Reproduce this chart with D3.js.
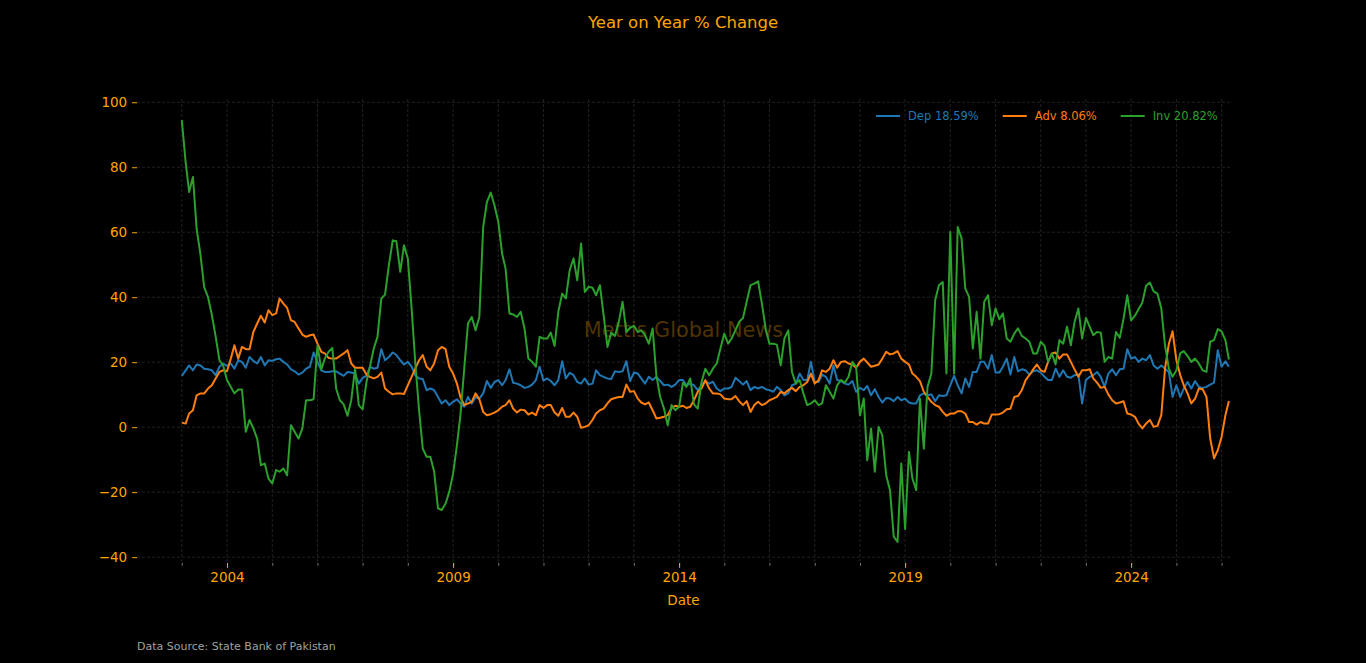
<!DOCTYPE html>
<html>
<head>
<meta charset="utf-8">
<script src="https://cdn.jsdelivr.net/npm/d3@7"></script>
<style>
  html, body { margin: 0; background: #000; }
  svg { display: block; font-family: "DejaVu Sans", sans-serif; }
</style>
</head>
<body>
<script>
// monthly data, first month Jan 2003
const startYear = 2003;
const dep = [15.8,17.5,19,17.5,19.3,19,18,17.8,17.5,16,18.6,19.6,18.9,19.6,18,20.6,20.1,18.3,21.6,20.4,19.6,21.6,19,20.6,20.4,20.9,21.1,20.1,19.3,17.8,17.2,16.2,16.8,18,18.6,
  23,20.1,17.5,17,17,17.2,17.2,16.5,15.8,17,16.8,16.5,13.4,15.2,15.8,18.6,18,18.3,24,20.6,21.6,23,22.2,20.6,19.3,20.1,18.6,16,15,14.8,11.4,11.9,11.4,9.3,7.3,8.3,
  6.8,7.8,8.6,7.3,6.3,9.3,7.3,9.3,8.8,10.4,14.2,12.1,13.9,14.5,12.9,14.5,17.8,13.7,13.4,12.9,12.1,12.4,13.1,14.5,18.6,14.3,15,14.2,12.9,14.5,20.3,15,16.7,16,13.9,13.4,
  15,13.1,13.4,17.5,16,15.5,15,14.8,17.2,17,17.2,20.3,14.2,16.8,16.5,15,13.4,15.5,14.5,15.5,14.2,12.9,13.1,12.4,13.1,14.5,14.5,12.9,13.4,12.9,11.4,12.9,14.2,13.4,14,
  11.9,11.1,11.9,11.9,12.4,15.2,14.2,13.1,14.2,11.4,12.4,11.9,12.4,11.7,11.4,10.9,12.4,11.4,9.8,10.4,12.9,13.4,16.5,14.5,14.5,20.1,13.9,13.9,16.2,15.5,13.4,19,14.5,14.2,13.4,13.1,
  14.2,10.9,12.1,11.4,12.7,9.8,11.7,9.3,7.6,9,8.8,8,9.3,8.3,8.8,7.6,7.3,7.3,9.8,10.4,9.8,10.1,8,9.8,9.6,9.8,12.9,15.8,12.9,10.4,15,12.4,17,17,20.1,20.1,
  18,22.2,16.8,16.8,18.6,21.1,16.2,21.6,17.2,17.8,17.5,16.2,17.2,17.5,16.8,15.5,14.5,14.5,18,15.5,17.5,15.5,15.2,16,16.2,7.3,14.5,15.5,16,17,15.5,12.4,16.5,17.8,16,17.8,
  18,24,21.1,21.6,20.1,21.1,20.6,22.2,19,18,19,18,17,9.3,12.9,9.3,11.9,13.9,11.9,14.2,12.4,12.1,12.4,13.1,13.7,23.7,18.6,20.3,18.59];
const adv = [1.4,1.1,4.2,5.2,9.8,10.4,10.4,11.9,12.9,15,17,17.5,17.2,21.1,25.2,21.1,24.7,24,24,29.3,31.9,34.3,32.2,36,34.5,35,39.6,38,36.7,32.9,32.4,30.4,28.5,27.8,28.3,
  28.5,25.7,23.2,22.7,21.3,21.1,21.1,21.9,22.7,23.7,19.6,18.3,18.3,18.3,16.2,15.5,15,15.5,16.8,11.9,10.9,10.1,10.4,10.4,10.2,12.9,15.5,18,20.6,22.2,18.6,17.5,19.6,23.7,24.7,24,
  18.6,16.5,13.4,9.3,6.8,7.3,7.8,10.4,8.6,4.7,3.7,4,4.5,5.2,6.3,6.8,8.3,5.7,4.5,5.4,5.2,3.9,4.5,3.7,6.8,5.9,6.8,6.8,4.5,3.5,5.9,3.2,3.2,4.5,3.2,-0.2,
  0.1,0.6,2.2,4.2,5.2,5.7,7.3,8.6,9,9.3,9.3,13.1,10.9,11.1,8.8,7.6,7,7.6,5.2,2.7,2.9,3.2,3.7,5.9,6.6,6.3,6.6,5.9,6.3,8.3,10.9,11.9,14.5,11.9,10.4,
  10.4,10.1,8.8,8.6,8.6,9.6,8,6.8,8,4.7,6.8,7.8,6.8,7.3,8.3,8.8,9.3,10.9,10.4,11.4,12.1,11.1,12.4,12.9,13.9,16.5,13.4,14.5,17.5,17,18,20.6,18.3,20.1,20.3,19.6,
  19.3,18.3,20.1,21.1,19.9,18.6,18.9,19.3,21.1,23.2,22.4,22.7,23.4,21.1,20.1,19.3,16.5,15.5,14.2,10.9,9.3,7.8,6.8,6.3,4.7,3.5,4.2,4.2,4.9,4.9,4.2,1.6,1.6,0.8,1.6,1.1,
  1.1,3.9,3.9,4,4.5,5.5,5.7,9.3,9.6,11.4,14.5,16,17.8,19.3,17.5,17,20.1,22.7,23,21.1,22.4,22.4,20.1,17.8,15.5,17.5,17.5,17.8,15,13.7,12.1,12.4,10.1,8.3,7.3,7.6,
  8,4.2,3.9,3.2,1.1,-0.4,1.1,2.2,0.1,0.4,3.7,18,25.7,29.5,20.6,16,12.9,10.4,7.3,8.8,11.9,11.7,9.3,-3.5,-9.6,-7.1,-3,3.7,8.06];
const inv = [94.5,81.6,72.4,77,61,53,43,40,34.5,28,20.6,19,14.5,12.4,10.4,11.6,11.6,-1.4,2.2,-0.4,-3.5,-11.7,-11.2,-15.8,-17.3,-13.2,-13.7,-12.7,-14.8,0.6,-1.4,-3.5,-0.4,8.3,8.3,
  8.6,25.2,17.8,21.1,23.2,24.4,11.9,8.3,7,3.5,8.3,18,6.8,5.5,13.9,18.6,24.2,27.8,39.6,40.8,49.8,57.5,57.2,47.8,56,51.9,36.5,20.1,5.2,-6.6,-9.1,-9.1,-13.7,-25,-25.5,-23.5,
  -19.9,-14.3,-5.5,3.7,18,31.9,33.9,29.8,33.9,61.6,69.3,72.2,68.3,63.2,53.4,48.8,35,34.7,33.9,35.5,30.4,21.1,20.1,18.6,27.8,27.3,27.3,29.1,25,35.5,41.1,39.6,48.3,51.9,45.2,56.5,
  41.6,43.2,42.9,40.6,43.7,34.5,24.7,29.1,28.1,32.4,38.6,29.3,30.6,31.2,29.3,29.8,28.3,25.7,30.4,16,9.3,5.7,0.6,6.8,5.2,6.3,13.7,12.4,15,7,5.7,13.9,18,16,18,
  19.6,24.2,28.8,25.7,27.3,29.8,32.4,33.6,38.6,43.7,44.2,44.9,38,30.4,25.7,25.7,25.4,19,27.3,29.8,17,13.4,14.5,10.4,6.8,7.3,8.3,6.8,7.3,12.9,10.9,8.8,12.9,14.5,13.7,15.5,
  20.1,18.6,3.7,8.8,-10.2,-0.4,-13.7,0.1,-2.5,-14.8,-19.4,-33.7,-35.3,-11.2,-31.3,-7.6,-15.8,-19.4,8.8,-6.6,12.4,16.5,39.1,43.7,44.7,16.5,60.1,16.5,61.6,58.1,42.7,40.1,24.2,35.5,21.1,38.6,
  40.6,31.4,36.5,33.2,35,27.3,26.3,28.8,30.4,28.1,27.3,26.3,22.7,22.7,26.3,25,20.1,22.7,19.3,26.8,25.7,30.9,25.2,32.4,36.5,27.3,33.6,30.9,28.3,29.3,29.1,20.1,21.6,21.1,29.3,27.5,
  33.4,40.6,32.9,34.3,36.3,38.4,43.5,44.5,41.8,41.1,36.5,25.2,18,15.5,17.5,22.7,23.4,21.9,20.1,21.1,19.6,17.5,17,26.3,26.8,30.2,29.5,26.8,20.82];

const seriesNames = ["Dep", "Adv", "Inv"];
const seriesColors = ["#1f77b4", "#ff7f0e", "#2ca02c"];
const yTicks = [-40, -20, 0, 20, 40, 60, 80, 100];
const xTickYears = [2004, 2009, 2014, 2019, 2024];

const w = 1366, h = 663;
const padL = 137, padR = 1230, padT = 99, padB = 563;
const orange = "#ffa500";
const gridColor = "#2a2a2a";

const dates = dep.map((d, i) => new Date(startYear, i, 1));
const series = [dep, adv, inv];

const xScale = d3.scaleTime()
  .domain([new Date(2002, 0, 4), new Date(2026, 2, 10)])
  .range([padL, padR]);
const yScale = d3.scaleLinear()
  .domain([-41.8, 101])
  .range([padB, padT]);

const svg = d3.select("body").append("svg")
  .attr("width", w).attr("height", h);

svg.append("rect").attr("width", w).attr("height", h).attr("fill", "#000");

// grid
const yearTicks = d3.range(2003, 2027).map(yr => new Date(yr, 0, 1));
svg.append("g").selectAll("line").data(yearTicks).enter().append("line")
  .attr("x1", d => xScale(d)).attr("x2", d => xScale(d))
  .attr("y1", padT).attr("y2", padB)
  .attr("stroke", gridColor).attr("stroke-width", 0.8).attr("stroke-dasharray", "3,2");
svg.append("g").selectAll("line").data(yTicks).enter().append("line")
  .attr("x1", padL).attr("x2", padR)
  .attr("y1", d => yScale(d)).attr("y2", d => yScale(d))
  .attr("stroke", gridColor).attr("stroke-width", 0.8).attr("stroke-dasharray", "3,2");

// watermark
svg.append("text")
  .attr("x", (padL + padR) / 2).attr("y", (padT + padB) / 2)
  .attr("text-anchor", "middle").attr("dominant-baseline", "middle")
  .attr("font-size", "20.8px").attr("fill", orange).attr("fill-opacity", 0.32)
  .text("Mettis Global News");

// lines
const line = d3.line().x((d, i) => xScale(dates[i])).y(d => yScale(d));
series.forEach((s, k) => {
  svg.append("path").datum(s)
    .attr("d", line)
    .attr("fill", "none")
    .attr("stroke", seriesColors[k])
    .attr("stroke-width", 2)
    .attr("stroke-linejoin", "round");
});

// axes
const xMinor = d3.axisBottom(xScale).tickValues(yearTicks).tickSize(2.8).tickFormat("");
const gxm = svg.append("g").attr("transform", "translate(0," + padB + ")").call(xMinor);
gxm.select(".domain").remove();
gxm.selectAll("line").attr("stroke", "#777");

const xAxis = d3.axisBottom(xScale)
  .tickValues(xTickYears.map(yr => new Date(yr, 0, 1)))
  .tickSize(4.9).tickPadding(4.5)
  .tickFormat(d3.timeFormat("%Y"));
const gx = svg.append("g").attr("transform", "translate(0," + padB + ")").call(xAxis);
gx.select(".domain").remove();
gx.selectAll("line").attr("stroke", orange);
gx.selectAll("text").attr("fill", orange).attr("font-size", "13.5px").attr("font-family", "DejaVu Sans");

const yAxis = d3.axisLeft(yScale).tickValues(yTicks).tickSize(4.9).tickPadding(4.9)
  .tickFormat(d => d < 0 ? "\u2212" + Math.abs(d) : d);
const gy = svg.append("g").attr("transform", "translate(" + padL + ",0)").call(yAxis);
gy.select(".domain").remove();
gy.selectAll("line").attr("stroke", orange);
gy.selectAll("text").attr("fill", orange).attr("font-size", "13.5px").attr("font-family", "DejaVu Sans");

// labels
svg.append("text").attr("x", w / 2).attr("y", 28)
  .attr("text-anchor", "middle").attr("font-size", "16.5px").attr("fill", orange)
  .text("Year on Year % Change");
svg.append("text").attr("x", (padL + padR) / 2).attr("y", 605)
  .attr("text-anchor", "middle").attr("font-size", "13.5px").attr("fill", orange)
  .text("Date");
svg.append("text").attr("x", padL).attr("y", 650)
  .attr("font-size", "11px").attr("fill", "#a0a0a0")
  .text("Data Source: State Bank of Pakistan");

// legend
const legend = svg.append("g");
let lx = 876;
series.forEach((s, k) => {
  legend.append("line")
    .attr("x1", lx).attr("x2", lx + 24).attr("y1", 116).attr("y2", 116)
    .attr("stroke", seriesColors[k]).attr("stroke-width", 2);
  const t = legend.append("text")
    .attr("x", lx + 32).attr("y", 120)
    .attr("font-size", "11.5px").attr("fill", seriesColors[k])
    .text(seriesNames[k] + " " + s[s.length - 1].toFixed(2) + "%");
  lx += 32 + t.node().getComputedTextLength() + 24;
});
</script>
</body>
</html>
